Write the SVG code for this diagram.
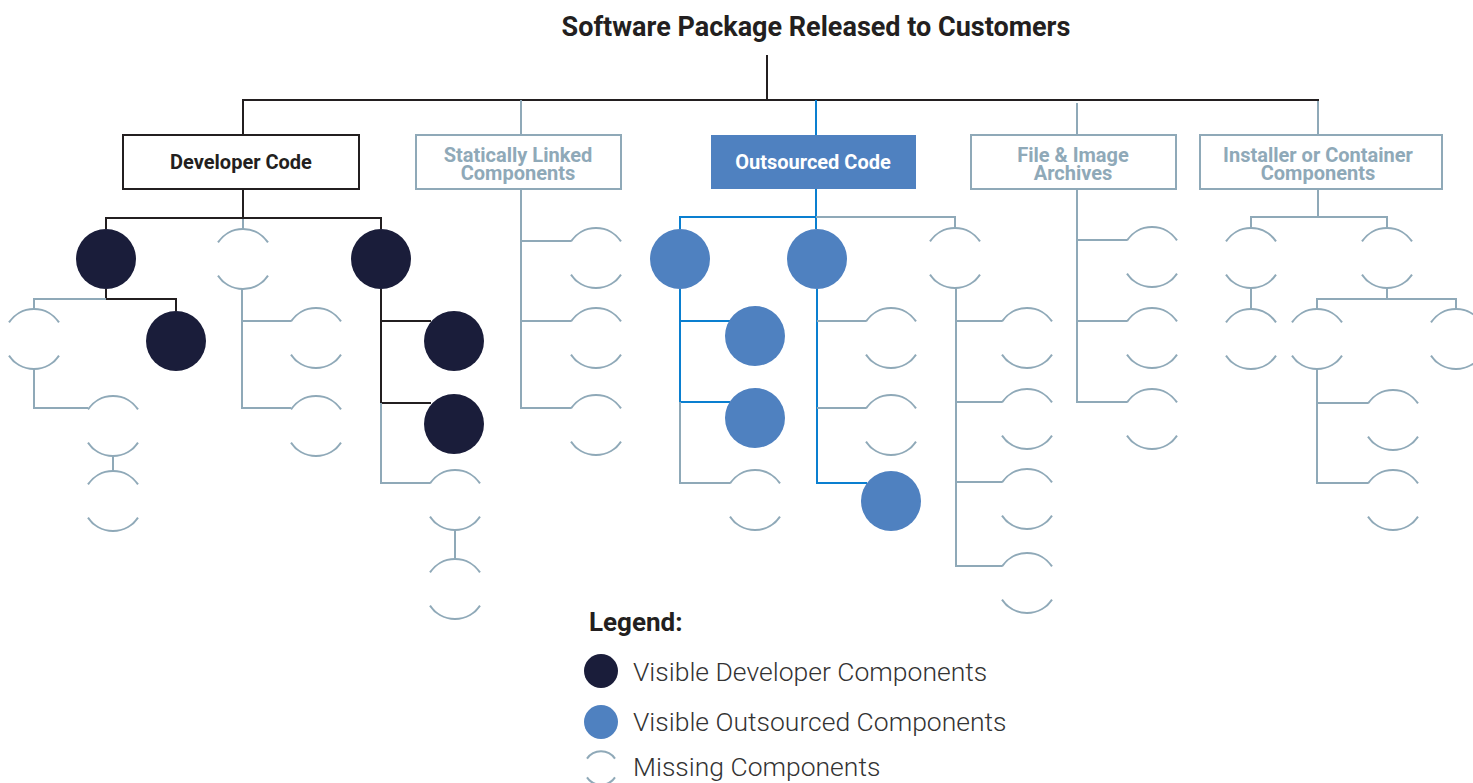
<svg xmlns="http://www.w3.org/2000/svg" xmlns:xlink="http://www.w3.org/1999/xlink" width="1473" height="783" viewBox="0 0 1473 783">
  <style>
    .k { stroke: #231f20; stroke-width: 2; fill: none; }
    .g { stroke: #8fa9b8; stroke-width: 2; fill: none; }
    .b { stroke: #0a7fd0; stroke-width: 2; fill: none; }
    .dev { fill: #1a1d3a; }
    .out { fill: #4f81c0; }
    .box { fill: #ffffff; stroke: #8fa9b8; stroke-width: 2; }
    .box-k { fill: #ffffff; stroke: #231f20; stroke-width: 2; }
    .box-b { fill: #4f81c0; }
    .lbl { font-family: Roboto, "Liberation Sans", sans-serif; font-weight: 700; font-size: 20px; text-anchor: middle; }
    .lbl-g { fill: #8fa9b8; }
    .lbl-k { fill: #231f20; }
    .lbl-w { fill: #ffffff; }
    .title { font-family: Roboto, "Liberation Sans", sans-serif; font-weight: 700; font-size: 27px; fill: #231f20; text-anchor: middle; }
    .leg-h { font-family: Roboto, "Liberation Sans", sans-serif; font-weight: 700; font-size: 26px; fill: #231f20; }
    .leg { font-family: Roboto, "Liberation Sans", sans-serif; font-weight: 300; font-size: 26.5px; fill: #333333; }
  </style>
  <defs>
    <!-- open circle: only the top and bottom arcs are stroked -->
    <path id="miss" class="g" d="M -25 -16.6 A 30 30 0 0 1 25 -16.6 M -25 16.6 A 30 30 0 0 0 25 16.6"/>
    <path id="miss-s" class="g" d="M -14 -9.4 A 17 17 0 0 1 14 -9.4 M -14 9.4 A 17 17 0 0 0 14 9.4"/>
  </defs>

  <rect width="1473" height="783" fill="#ffffff"/>

  <g id="connectors">
    <!-- root to categories -->
    <polyline class="k" points="767,55 767,100"/>
    <polyline class="k" points="243,135 243,100 1318,100 1318,135"/>
    <polyline class="g" points="521,100 521,135"/>
    <polyline class="b" points="816,100 816,135"/>
    <polyline class="g" points="1077,103 1077,135"/>
    <polyline class="g" points="1318,101 1318,135"/>

    <!-- developer code -->
    <polyline class="k" points="243,189 243,218"/>
    <polyline class="k" points="106,229 106,218 381,218 381,229"/>
    <polyline class="g" points="243,219 243,229"/>
    <polyline class="k" points="106,289 106,299 176,299 176,311"/>
    <polyline class="g" points="106,299 34,299 34,309"/>
    <polyline class="g" points="34,369 34,408 88,408"/>
    <polyline class="g" points="113,456 113,471"/>
    <polyline class="g" points="242,289 242,408 291,408"/>
    <polyline class="g" points="242,321 291,321"/>
    <polyline class="k" points="381,289 381,403 431,403"/>
    <polyline class="k" points="381,321 431,321"/>
    <polyline class="g" points="381,403 381,483 430,483"/>
    <polyline class="g" points="455,530 455,560"/>

    <!-- statically linked -->
    <polyline class="g" points="521,189 521,408 571,408"/>
    <polyline class="g" points="521,241 571,241"/>
    <polyline class="g" points="521,321 571,321"/>

    <!-- outsourced code -->
    <polyline class="b" points="816,189 816,217"/>
    <polyline class="b" points="680,229 680,217 816,217 816,229"/>
    <polyline class="g" points="816,217 955,217 955,228"/>
    <polyline class="b" points="680,289 680,402 730,402"/>
    <polyline class="b" points="680,321 730,321"/>
    <polyline class="g" points="680,402 680,483 730,483"/>
    <polyline class="b" points="817,289 817,483 867,483"/>
    <polyline class="g" points="817,321 866,321"/>
    <polyline class="g" points="817,408 866,408"/>
    <polyline class="g" points="956,288 956,566 1002,566"/>
    <polyline class="g" points="956,321 1002,321"/>
    <polyline class="g" points="956,402 1002,402"/>
    <polyline class="g" points="956,482 1002,482"/>

    <!-- file and image archives -->
    <polyline class="g" points="1077,189 1077,402 1127,402"/>
    <polyline class="g" points="1077,240 1127,240"/>
    <polyline class="g" points="1077,321 1127,321"/>

    <!-- installer or container -->
    <polyline class="g" points="1318,189 1318,217"/>
    <polyline class="g" points="1251,228 1251,217 1387,217 1387,228"/>
    <polyline class="g" points="1251,288 1251,309"/>
    <polyline class="g" points="1387,288 1387,299"/>
    <polyline class="g" points="1317,309 1317,299 1456,299 1456,309"/>
    <polyline class="g" points="1317,369 1317,483 1368,483"/>
    <polyline class="g" points="1317,403 1368,403"/>
  </g>

  <g id="root">
    <text class="title" x="816" y="36">Software Package Released to Customers</text>
  </g>

  <g id="cat-developer">
    <rect class="box-k" x="123" y="135" width="236" height="54"/>
    <text class="lbl lbl-k" x="241" y="169">Developer Code</text>
  </g>
  <g id="cat-static">
    <rect class="box" x="416" y="135" width="205" height="54"/>
    <text class="lbl lbl-g" x="518" y="162">Statically Linked</text>
    <text class="lbl lbl-g" x="518" y="180">Components</text>
  </g>
  <g id="cat-outsourced">
    <rect class="box-b" x="711" y="135" width="205" height="54"/>
    <text class="lbl lbl-w" x="813" y="169">Outsourced Code</text>
  </g>
  <g id="cat-archives">
    <rect class="box" x="971" y="135" width="205" height="54"/>
    <text class="lbl lbl-g" x="1073" y="162">File &amp; Image</text>
    <text class="lbl lbl-g" x="1073" y="180">Archives</text>
  </g>
  <g id="cat-installer">
    <rect class="box" x="1200" y="135" width="242" height="54"/>
    <text class="lbl lbl-g" x="1318" y="162">Installer or Container</text>
    <text class="lbl lbl-g" x="1318" y="180">Components</text>
  </g>

  <!-- developer components -->
  <g id="dev-1"><circle class="dev" cx="106" cy="259" r="30"/></g>
  <g id="dev-2"><circle class="dev" cx="381" cy="259" r="30"/></g>
  <g id="dev-3"><circle class="dev" cx="176" cy="341" r="30"/></g>
  <g id="dev-4"><circle class="dev" cx="454" cy="341" r="30"/></g>
  <g id="dev-5"><circle class="dev" cx="454" cy="424" r="30"/></g>
  <g id="dev-m1"><use xlink:href="#miss" x="243" y="259"/></g>
  <g id="dev-m2"><use xlink:href="#miss" x="34" y="339"/></g>
  <g id="dev-m3"><use xlink:href="#miss" x="113" y="426"/></g>
  <g id="dev-m4"><use xlink:href="#miss" x="113" y="501"/></g>
  <g id="dev-m5"><use xlink:href="#miss" x="316" y="338"/></g>
  <g id="dev-m6"><use xlink:href="#miss" x="316" y="426"/></g>
  <g id="dev-m7"><use xlink:href="#miss" x="455" y="500"/></g>
  <g id="dev-m8"><use xlink:href="#miss" x="455" y="589"/></g>

  <!-- statically linked components -->
  <g id="sta-m1"><use xlink:href="#miss" x="596" y="258"/></g>
  <g id="sta-m2"><use xlink:href="#miss" x="596" y="338"/></g>
  <g id="sta-m3"><use xlink:href="#miss" x="596" y="425"/></g>

  <!-- outsourced components -->
  <g id="out-1"><circle class="out" cx="680" cy="259" r="30"/></g>
  <g id="out-2"><circle class="out" cx="817" cy="259" r="30"/></g>
  <g id="out-3"><circle class="out" cx="755" cy="336" r="30"/></g>
  <g id="out-4"><circle class="out" cx="755" cy="418" r="30"/></g>
  <g id="out-5"><circle class="out" cx="891" cy="501" r="30"/></g>
  <g id="out-m1"><use xlink:href="#miss" x="955" y="258"/></g>
  <g id="out-m2"><use xlink:href="#miss" x="755" y="500"/></g>
  <g id="out-m3"><use xlink:href="#miss" x="891" y="338"/></g>
  <g id="out-m4"><use xlink:href="#miss" x="891" y="425"/></g>
  <g id="out-m5"><use xlink:href="#miss" x="1027" y="338"/></g>
  <g id="out-m6"><use xlink:href="#miss" x="1027" y="419"/></g>
  <g id="out-m7"><use xlink:href="#miss" x="1027" y="499"/></g>
  <g id="out-m8"><use xlink:href="#miss" x="1027" y="583"/></g>

  <!-- archive components -->
  <g id="arc-m1"><use xlink:href="#miss" x="1152" y="257"/></g>
  <g id="arc-m2"><use xlink:href="#miss" x="1152" y="338"/></g>
  <g id="arc-m3"><use xlink:href="#miss" x="1152" y="419"/></g>

  <!-- installer components -->
  <g id="ins-m1"><use xlink:href="#miss" x="1251" y="258"/></g>
  <g id="ins-m2"><use xlink:href="#miss" x="1387" y="258"/></g>
  <g id="ins-m3"><use xlink:href="#miss" x="1251" y="339"/></g>
  <g id="ins-m4"><use xlink:href="#miss" x="1317" y="339"/></g>
  <g id="ins-m5"><use xlink:href="#miss" x="1456" y="339"/></g>
  <g id="ins-m6"><use xlink:href="#miss" x="1393" y="420"/></g>
  <g id="ins-m7"><use xlink:href="#miss" x="1393" y="500"/></g>

  <g id="legend">
    <text class="leg-h" x="589" y="631">Legend:</text>
    <circle class="dev" cx="601" cy="671" r="17"/>
    <text class="leg" x="633" y="681">Visible Developer Components</text>
    <circle class="out" cx="601" cy="722" r="17"/>
    <text class="leg" x="633" y="731">Visible Outsourced Components</text>
    <use xlink:href="#miss-s" x="601" y="768"/>
    <text class="leg" x="633" y="776">Missing Components</text>
  </g>
</svg>
